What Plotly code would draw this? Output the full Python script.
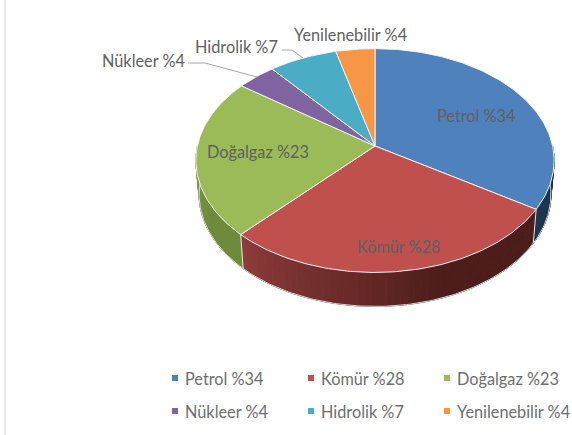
import numpy as np
import plotly.graph_objects as go

categories = ["Petrol %34", "Kömür %28", "Doğalgaz %23", "Nükleer %4", "Hidrolik %7", "Yenilenebilir %4"]
values = [34, 28, 23, 4, 7, 4]
colors = ["#4f81bd", "#c0504d", "#9bbb59", "#8064a2", "#4bacc6", "#f79646"]
wall_left = ["#1c3650", "#8d3c3a", "#7f9c49", "#55426f", "#317a8e", "#b86d2e"]
wall_right = ["#1a3350", "#4d1d1b", "#6e8b3c", "#4f3f68", "#2d7386", "#a8642a"]

CX, CY, A, B, K = 375.0, 146.0, 177.6, 110.0, 0.13
DEPTH, SHRINK = 34.0, 0.982


def top(theta):
    x, y = np.sin(theta), np.cos(theta)
    d = 1 + K * y
    return CX + A * x / d, CY - B * y / d


def bottom(theta):
    px, py = top(theta)
    return CX + (px - CX) * SHRINK, py + DEPTH


def hexmix(c1, c2, t):
    a = [int(c1[i:i + 2], 16) for i in (1, 3, 5)]
    b = [int(c2[i:i + 2], 16) for i in (1, 3, 5)]
    return "rgb(%d,%d,%d)" % tuple(round(p + (q - p) * t) for p, q in zip(a, b))


fig = go.Figure()
edges = np.cumsum([0] + values) / sum(values) * 2 * np.pi


def add_poly(xs, ys, fill, line=None, width=1.0):
    fig.add_trace(go.Scatter(x=xs, y=ys, mode="lines", fill="toself", fillcolor=fill,
                             line=dict(color=line or fill, width=width),
                             hoverinfo="skip", showlegend=False))


# side wall: only the front half of the disc is visible, shaded left to right
for i, v in enumerate(values):
    a0, a1 = max(edges[i], np.pi / 2), min(edges[i + 1], 3 * np.pi / 2)
    if a1 <= a0:
        continue
    n = max(2, int((a1 - a0) / np.radians(2)))
    steps = np.linspace(a0, a1, n + 1)
    for s0, s1 in zip(steps[:-1], steps[1:]):
        tx0, ty0 = top(s0)
        tx1, ty1 = top(s1)
        bx0, by0 = bottom(s0)
        bx1, by1 = bottom(s1)
        mid = (s0 + s1) / 2
        t = min(1.0, (a1 - mid) / (a1 - a0) / 0.62)
        add_poly([tx0, tx1, bx1, bx0, tx0], [ty0, ty1, by1, by0, ty0],
                 hexmix(wall_left[i], wall_right[i], t))

# seams on the wall
for i in range(len(values)):
    if np.pi / 2 < edges[i] < 3 * np.pi / 2:
        t0, b0 = top(edges[i]), bottom(edges[i])
        fig.add_trace(go.Scatter(x=[t0[0], b0[0]], y=[t0[1], b0[1]], mode="lines",
                                 line=dict(color="#e6e6e6", width=1), hoverinfo="skip", showlegend=False))

# outline of the wall
theta_front = np.linspace(np.pi / 2, 3 * np.pi / 2, 181)
bx, by = bottom(theta_front)
fig.add_trace(go.Scatter(x=bx, y=by, mode="lines", line=dict(color="#d9d9d9", width=1),
                         hoverinfo="skip", showlegend=False))

# top surface
for i, v in enumerate(values):
    th = np.linspace(edges[i], edges[i + 1], max(3, int(v * 4)))
    px, py = top(th)
    xs = np.concatenate([[CX], px, [CX]])
    ys = np.concatenate([[CY], py, [CY]])
    add_poly(xs, ys, colors[i], "#f2f2f2", 1)

# leader lines
leader_x = [[188, 205, 257], [282, 292, 303]]
leader_y = [[63, 63, 77], [50, 50, 58]]
for lx, ly in zip(leader_x, leader_y):
    fig.add_trace(go.Scatter(x=lx, y=ly, mode="lines", line=dict(color="#a6a6a6", width=1),
                             hoverinfo="skip", showlegend=False))

# left frame remnant
fig.add_trace(go.Scatter(x=[5, 5], y=[0, 435], mode="lines", line=dict(color="#e6e6e6", width=2),
                         hoverinfo="skip", showlegend=False))

# legend swatches and names
legend_x = [175, 311, 447, 175, 311, 447]
legend_y = [378, 378, 378, 411, 411, 411]
for name, col, lx, ly in zip(categories, colors, legend_x, legend_y):
    fig.add_trace(go.Scatter(x=[lx], y=[ly], mode="markers", name=name, showlegend=False,
                             marker=dict(symbol="square", size=6, color=col), hoverinfo="skip"))
    fig.add_annotation(x=lx + 8, y=ly, text=name, showarrow=False, xanchor="left", yanchor="middle",
                       font=dict(family="Lato", size=16.3, color="#6e6e6e"))

label_pos = [(476, 115), (399, 246), (258, 151), (143, 60), (236, 46), (350, 34)]
for name, (lx, ly) in zip(categories, label_pos):
    fig.add_annotation(x=lx, y=ly, text=name, showarrow=False, xanchor="center", yanchor="middle",
                       font=dict(family="Lato", size=16.3, color="#5f5f5f"))

fig.update_layout(
    width=572, height=435, margin=dict(l=0, r=0, t=0, b=0, autoexpand=False),
    paper_bgcolor="white", plot_bgcolor="white", showlegend=False,
    xaxis=dict(range=[0, 572], visible=False, fixedrange=True),
    yaxis=dict(range=[435, 0], visible=False, fixedrange=True),
    font=dict(family="Lato", size=16, color="#595959"),
)
fig.write_html("out.html", post_script="document.body.style.margin='0';document.body.style.overflow='hidden';",
               config={"displayModeBar": False})
